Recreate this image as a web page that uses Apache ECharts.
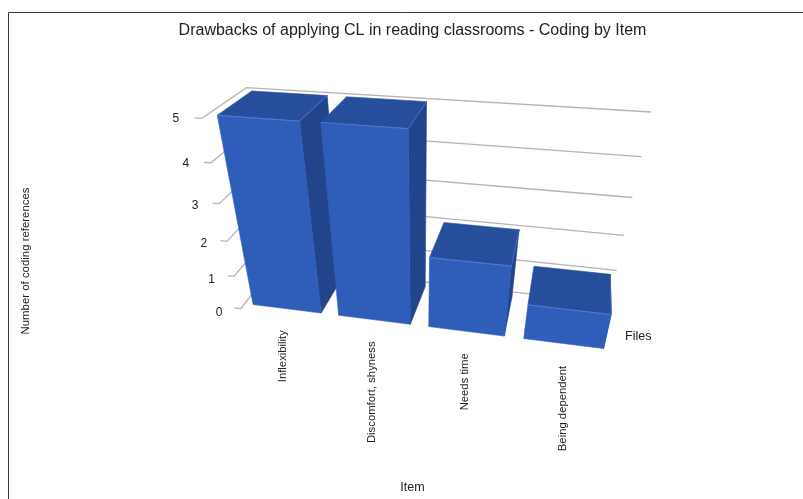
<!DOCTYPE html>
<html>
<head>
<meta charset="utf-8">
<style>html,body{margin:0;padding:0;background:#fff}#chart{width:803px;height:499px}</style>
<script src="https://cdn.jsdelivr.net/npm/echarts@6/dist/echarts.min.js"></script>
</head>
<body>
<div id="chart"></div>
<script>
// Coding references per item
const categories = ['Inflexibility', 'Discomfort, shyness', 'Needs time', 'Being dependent'];
const references = [5, 5, 2, 1];
const valueTicks = [0, 1, 2, 3, 4, 5];

const titleText = 'Drawbacks of applying CL in reading classrooms - Coding by Item';
const itemAxisName = 'Item';
const valueAxisName = 'Number of coding references';
const depthAxisName = 'Files';

const FONT = '"Liberation Sans", Arial, sans-serif';
const MAX_VALUE = 5;
const BAR_RATIO = 0.8;          // bar width as a share of the category band
const BAR_FRONT = 0.11;         // bar extent along the depth axis
const BAR_BACK = 0.9;
const WALL_END = 0.992;         // where the back-wall rules stop on the right

// Camera: homogeneous projection of (across, value, depth) onto the page
const CAMERA = [
  [310.9, -15.0, 62.28, 240.7],
  [11.38, -42.3, -16.19, 308.7],
  [-0.1016, -0.0358, 0.1038, 1]
];

function project(a, v, d) {
  const r = CAMERA.map(row => row[0] * a + row[1] * v + row[2] * d + row[3]);
  return [r[0] / r[2], r[1] / r[2]];
}

// Grid coordinates of a datum, expressed as across-share and value
function planePoint(api, params, cat, value) {
  const cs = params.coordSys;
  const p = api.coord([cat, value]);
  return {
    across: (p[0] - cs.x) / cs.width,
    value: (cs.y + cs.height - p[1]) / cs.height * MAX_VALUE
  };
}

function face(points, fill, stroke) {
  return {
    type: 'polygon',
    shape: { points: points },
    style: { fill: fill, stroke: stroke || fill, lineWidth: 0.6 },
    silent: true
  };
}

function edge(a, b, color) {
  return {
    type: 'line',
    shape: { x1: a[0], y1: a[1], x2: b[0], y2: b[1] },
    style: { stroke: color, lineWidth: 1.2 },
    silent: true
  };
}

function renderBar(params, api) {
  const cat = api.value(0);
  const top = planePoint(api, params, cat, api.value(1));
  const half = api.size([1, 0])[0] * BAR_RATIO / 2 / params.coordSys.width;
  const x0 = top.across - half, x1 = top.across + half, v = top.value;
  const ftl = project(x0, v, BAR_FRONT), ftr = project(x1, v, BAR_FRONT);
  const fbl = project(x0, 0, BAR_FRONT), fbr = project(x1, 0, BAR_FRONT);
  const btl = project(x0, v, BAR_BACK), btr = project(x1, v, BAR_BACK);
  const bbr = project(x1, 0, BAR_BACK);
  const foot = project(top.across, 0, 0);
  return {
    type: 'group',
    children: [
      face([ftr, btr, bbr, fbr], '#21448a'),
      face([ftl, ftr, btr, btl], '#274e9c'),
      face([ftl, ftr, fbr, fbl], '#2f5dba'),
      edge(ftl, ftr, '#4d77c9'),
      edge(ftr, btr, '#3f66b3'),
      {
        type: 'text',
        x: foot[0],
        y: foot[1] + 16,
        rotation: Math.PI / 2,
        style: {
          text: categories[cat], x: 0, y: 0,
          align: 'right', verticalAlign: 'middle',
          font: '11.3px ' + FONT, fill: '#222'
        },
        silent: true
      }
    ]
  };
}

function renderTick(params, api) {
  const cat = api.value(0);
  const v = planePoint(api, params, cat, api.value(1)).value;
  const pts = [project(-0.018, v, 0), project(0, v, 0), project(0, v, 1), project(WALL_END, v, 1)];
  const lab = project(-0.065, v, 0);
  return {
    type: 'group',
    children: [
      {
        type: 'polyline',
        shape: { points: pts },
        style: { fill: 'none', stroke: '#b4b4b4', lineWidth: 1.3 },
        silent: true
      },
      {
        type: 'text',
        x: lab[0],
        y: lab[1] + 7 - 0.9 * v,
        style: {
          text: String(api.value(1)), x: 0, y: 0,
          align: 'center', verticalAlign: 'middle',
          font: '12px ' + FONT, fill: '#222'
        },
        silent: true
      }
    ]
  };
}

const chart = echarts.init(document.getElementById('chart'), null, { renderer: 'canvas' });
chart.setOption({
  animation: false,
  backgroundColor: '#fff',
  title: {
    text: titleText,
    left: 407.5,
    top: 18,
    textAlign: 'center',
    textStyle: { fontFamily: FONT, fontSize: 16, fontWeight: 'normal', color: '#222' }
  },
  grid: { left: 30, right: 8, top: 63, bottom: 34 },
  xAxis: {
    type: 'category',
    data: categories,
    name: itemAxisName,
    nameLocation: 'middle',
    nameGap: 22,
    nameTextStyle: { fontFamily: FONT, fontSize: 12.5, color: '#222' },
    axisLine: { show: false },
    axisTick: { show: false },
    axisLabel: { show: false },
    splitLine: { show: false }
  },
  yAxis: {
    type: 'value',
    min: 0,
    max: MAX_VALUE,
    interval: 1,
    name: valueAxisName,
    nameLocation: 'middle',
    nameGap: -1,
    nameRotate: 90,
    nameTextStyle: { fontFamily: FONT, fontSize: 11.4, color: '#222' },
    axisLine: { show: false },
    axisTick: { show: false },
    axisLabel: { show: false },
    splitLine: { show: false }
  },
  graphic: [
    {
      type: 'polyline',
      shape: { points: [[8.5, 499], [8.5, 12.5], [803, 12.5]] },
      style: { fill: 'none', stroke: '#3c3c3c', lineWidth: 1 },
      silent: true
    },
    {
      type: 'text',
      x: 625,
      y: 337,
      style: {
        text: depthAxisName, verticalAlign: 'middle',
        font: '12.5px ' + FONT, fill: '#222'
      },
      silent: true
    }
  ],
  series: [
    {
      type: 'custom',
      name: 'Ticks',
      renderItem: renderTick,
      data: valueTicks.map(v => [0, v]),
      encode: { x: 0, y: 1 },
      clip: false,
      z: 1
    },
    {
      type: 'custom',
      name: 'Files',
      renderItem: renderBar,
      data: references.map((v, i) => [i, v]),
      encode: { x: 0, y: 1 },
      clip: false,
      z: 2
    }
  ]
});
</script>
</body>
</html>
